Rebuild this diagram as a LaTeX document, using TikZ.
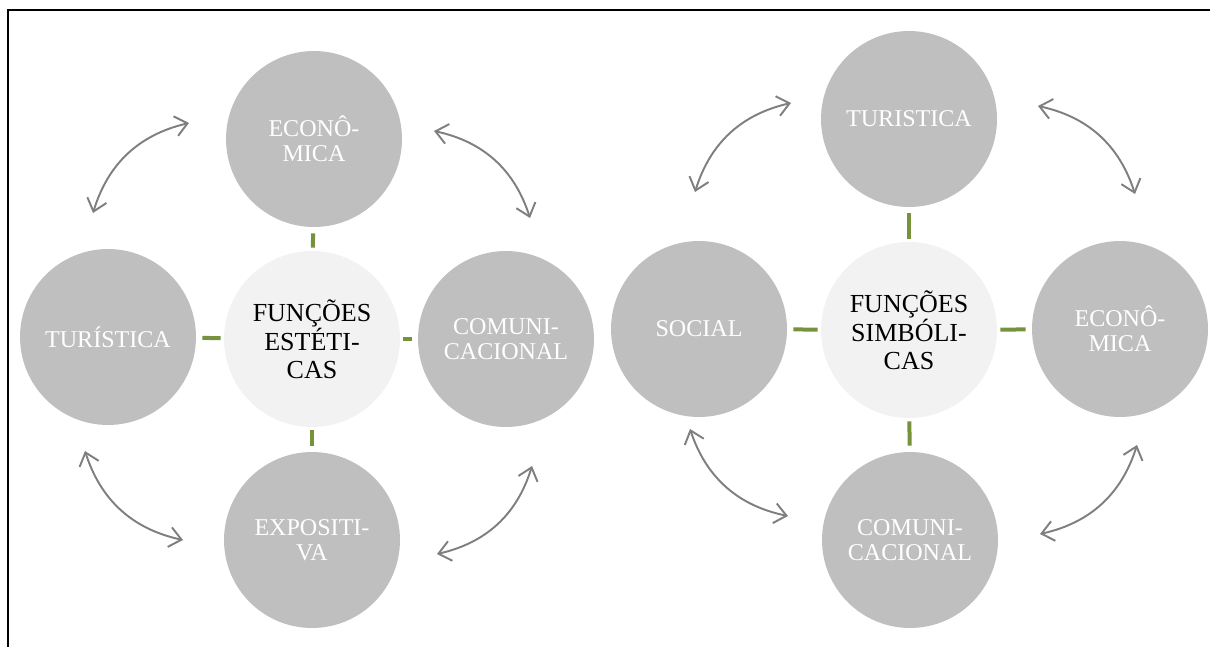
\documentclass[tikz,border=0pt]{standalone}
\usepackage{fontspec}
\setmainfont{Liberation Serif}
\usetikzlibrary{arrows.meta}

\definecolor{discocinza}{HTML}{BFBFBF}
\definecolor{discoclaro}{HTML}{F2F2F2}
\definecolor{verdeliga}{HTML}{76923C}
\definecolor{setacinza}{HTML}{7F7F7F}

\tikzset{
  funcao/.style={circle, fill=discocinza, minimum size=3.52cm, inner sep=0pt,
    align=center, text=white, font=\fontsize{13.7}{14.3}\selectfont},
  nucleo/.style={funcao, fill=discoclaro, text=black,
    font=\fontsize{14.8}{15.8}\selectfont},
  liga/.style={verdeliga, line width=0.08cm, shorten <=0.06cm, shorten >=0.12cm},
  giro/.style={setacinza, line width=1.1pt,
    {Straight Barb[length=0.24cm,width=0.4cm]}-{Straight Barb[length=0.24cm,width=0.4cm]}}
}

\begin{document}
\begin{tikzpicture}[x=0.02cm, y=-0.02cm]

\useasboundingbox (0,0) rectangle (1210,646);

% Moldura
\draw[line width=0.04cm] (8,700) |- (1260,10);

% =============================================
% ESQUERDA: Funções estéticas
% =============================================
\begin{scope}[shift={(312,339)}]
    \node[nucleo] (cenA) at (0,0) {FUNÇÕES\\ESTÉTI-\\CAS};
    \node[funcao] (ecoA) at (2,-200) {ECONÔ-\\MICA};
    \node[funcao] (turA) at (-204,-2) {TURÍSTICA};
    \node[funcao] (comA) at (194,0) {COMUNI-\\CACIONAL};
    \node[funcao] (expA) at (0,201) {EXPOSITI-\\VA};

    % Ligações ao centro
    \foreach \n in {ecoA,turA,comA,expA}
        \draw[liga] (cenA) -- (\n);

    % Setas curvas
    \foreach \ax/\ay/\bx/\by in {-219/-126/-123/-216, 122/-208/218/-121,
                                 220/127/125/215, -129/201/-227/112}
        \draw[giro] (\ax,\ay) to[bend left=30] (\bx,\by);
\end{scope}

% =============================================
% DIREITA: Funções simbólicas
% =============================================
\begin{scope}[shift={(909,330)}]
    \node[nucleo] (cenB) at (0,0) {FUNÇÕES\\SIMBÓLI-\\CAS};
    \node[funcao] (turB) at (0,-211) {TURISTICA};
    \node[funcao] (socB) at (-210,-1) {SOCIAL};
    \node[funcao] (ecoB) at (211,-1) {ECONÔ-\\MICA};
    \node[funcao] (comB) at (1,210) {COMUNI-\\CACIONAL};

    % Ligações ao centro
    \foreach \n in {turB,socB,ecoB,comB}
        \draw[liga] (cenB) -- (\n);

    % Setas curvas
    \foreach \ax/\ay/\bx/\by in {-214/-138/-118/-227, 129/-224/226/-136,
                                 228/115/131/204, -121/186/-219/99}
        \draw[giro] (\ax,\ay) to[bend left=30] (\bx,\by);
\end{scope}

\end{tikzpicture}
\end{document}
